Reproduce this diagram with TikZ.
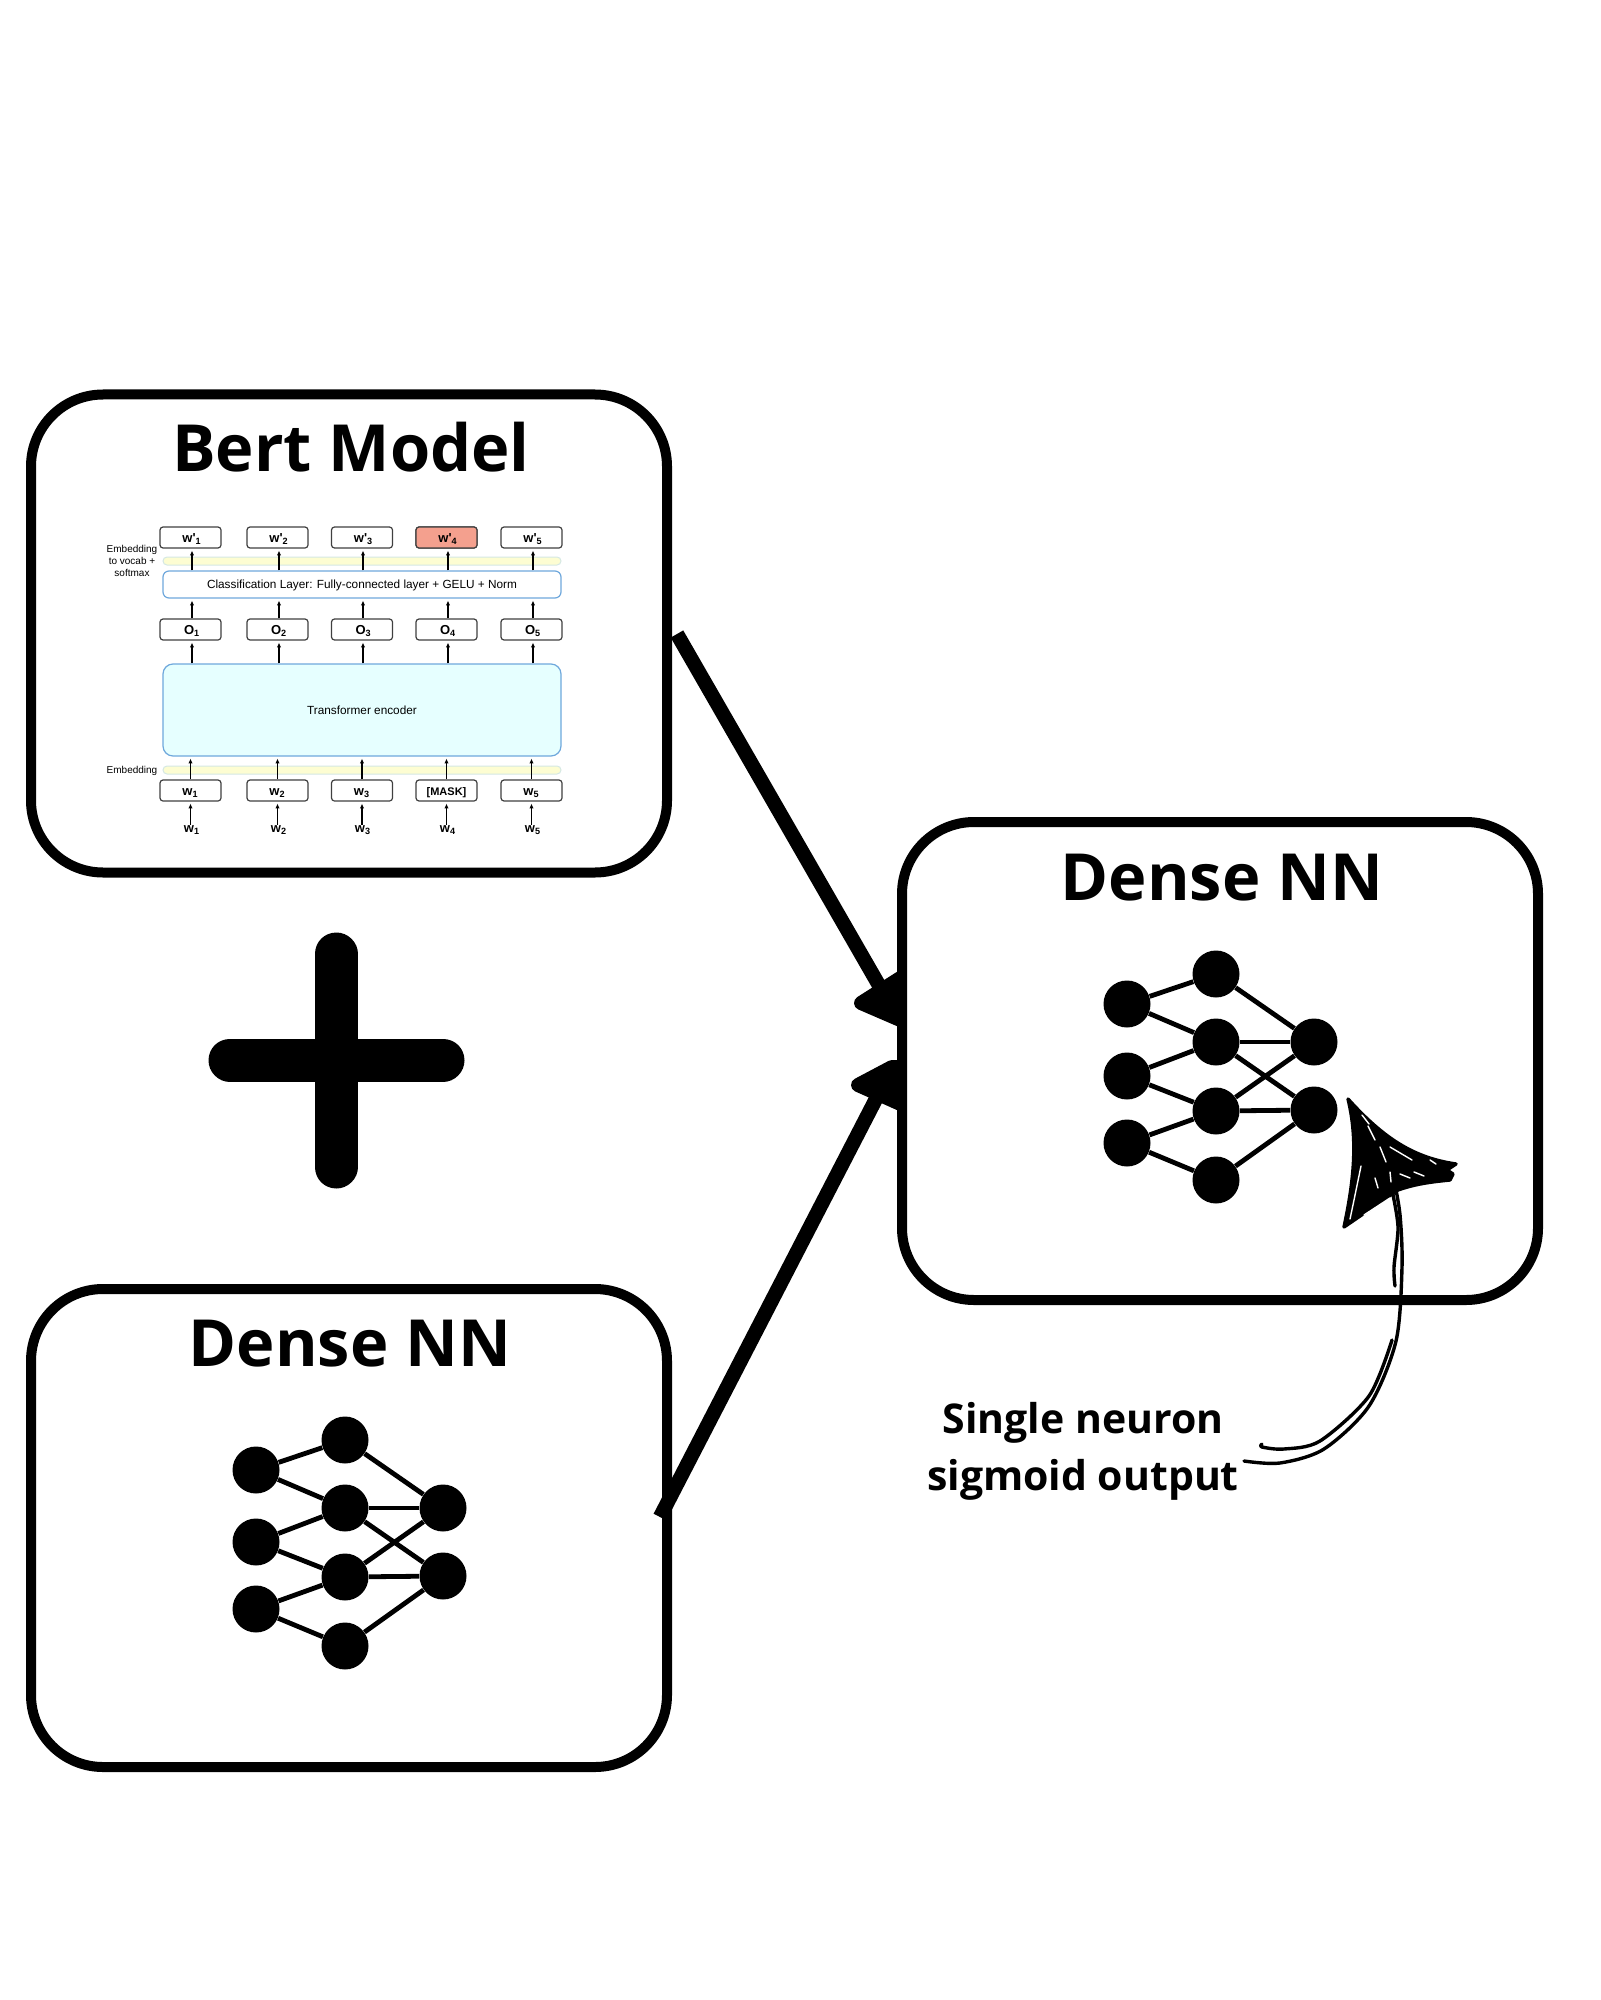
\documentclass[tikz,border=0pt]{standalone}
\usepackage{fontspec}
\setmainfont{Open Sans}
\newfontfamily\helvfont{Liberation Sans}
\usetikzlibrary{arrows.meta}
\definecolor{layerblue}{HTML}{6FA8DC}
\definecolor{bandyellow}{HTML}{FDFDD2}
\definecolor{bandedge}{HTML}{D5E8E4}
\definecolor{encfill}{HTML}{E6FFFF}
\definecolor{maskred}{HTML}{F4A08E}
\tikzset{
  bigbox/.style={draw,fill=white,line width=5pt,rounded corners=36pt,minimum width=318pt,minimum height=239pt,inner sep=0pt},
  title/.style={font=\fontsize{32.5}{33}\selectfont\bfseries,anchor=base,inner sep=0pt},
  neuron/.style={circle,fill=black,minimum size=23.5pt,inner sep=0pt},
  nnedge/.style={line width=2.4pt},
  fatline/.style={line width=7.2pt},
  arrowhead/.style={fill=black,draw=black,line width=7pt,line join=round},
  token/.style={draw=black!75,fill=white,line width=.6pt,rounded corners=1.5pt,minimum width=30.5pt,minimum height=10.5pt,inner sep=0pt,text height=6pt,text depth=1pt,font=\helvfont\fontsize{6.5}{7}\selectfont\bfseries},
  layerbox/.style={draw=layerblue,line width=.6pt,rounded corners=3pt,minimum width=199pt,inner sep=0pt,font=\helvfont\fontsize{5.9}{7}\selectfont},
  band/.style={draw=bandedge,fill=bandyellow,line width=.5pt,rounded corners=2pt,minimum width=199pt,minimum height=4pt,inner sep=0pt},
  sidetext/.style={font=\helvfont\fontsize{5}{6}\selectfont,inner sep=0pt},
  wordtext/.style={font=\helvfont\fontsize{6.5}{7}\selectfont\bfseries,inner sep=0pt},
  tinyarrow/.style={-{Latex[length=2.4pt,width=2.2pt]},line width=.6pt,shorten >=1pt},
  handline/.style={line width=1.7pt,line cap=round,line join=round},
  sliver/.style={draw=white,line width=.7pt,line cap=round}
}
\begin{document}
\begin{tikzpicture}[x=.5pt,y=-.5pt]
\useasboundingbox (0,0) rectangle (1600,2000);

\node [bigbox] (bert) at (349,633.5) {};
\node [bigbox] (dense) at (349,1528) {};

% arrows go under the right box
\coordinate (bertout) at (677,634);
\coordinate (bertend) at (880,987);
\coordinate (denseout) at (660,1517);
\coordinate (denseend) at (878,1095);
\draw[fatline] (bertout) -- (bertend);
\draw[fatline] (denseout) -- (denseend);
\filldraw[arrowhead] (861,1003) -- (905,975) -- (905,1022) -- cycle;
\filldraw[arrowhead] (858,1085) -- (892,1067) -- (905,1067) -- (905,1106) -- cycle;

\node [bigbox] (output) at (1220,1061) {};
\node [title] (berttitle) at (351,472) {Bert Model};
\node [title] (densetitle) at (350,1366) {Dense NN};
\node [title] (outputtitle) at (1222,900) {Dense NN};

% the bert picture
\node [band] (vocabband) at (362,561) {};
\node [layerbox,minimum height=13.5pt,text height=5pt,text depth=.6pt] (cls) at (362,584.5) {Classification Layer: Fully-connected layer + GELU + Norm};
\node [layerbox,fill=encfill,minimum height=46pt,rounded corners=5pt] (encoder) at (362,710) {Transformer encoder};
\node [band] (embband) at (362,770) {};
\node [sidetext,align=center] (vocabtext) at (132,561) {Embedding\\to vocab +\\softmax};
\node [sidetext] (embtext) at (132,771) {Embedding};

\foreach \i/\x/\wx in {1/190.5/192,2/277.5/279,3/362/363,4/446.5/448,5/531.5/533}{
  \node [token] (top\i) at (\x,537.5) {\hspace{1.6pt}w'\textsubscript{\i}};
  \node [token] (hid\i) at (\x,629.5) {\hspace{1.6pt}O\textsubscript{\i}};
  \node [wordtext] (word\i) at (\wx,830) {w\textsubscript{\i}};
}
\node [token,fill=maskred] at (top4) {\hspace{1.6pt}w'\textsubscript{4}};
\foreach \i/\x in {1/190.5,2/277.5,3/362,5/531.5}{
  \node [token] (inp\i) at (\x,790.5) {w\textsubscript{\i}};
}
\node [token,font=\helvfont\fontsize{5.5}{7}\selectfont\bfseries] (inp4) at (446.5,790.5) {[MASK]};

\foreach \i in {1,...,5}{
  \draw[tinyarrow] (inp\i.south |- word\i.north) -- (inp\i.south);
  \draw[tinyarrow] (inp\i.north) -- (inp\i.north |- encoder.south);
  \draw[tinyarrow] (word\i.north |- encoder.north) -- (word\i.north |- hid\i.south);
  \draw[tinyarrow] (word\i.north |- hid\i.north) -- (word\i.north |- cls.south);
  \draw[tinyarrow] (word\i.north |- cls.north) -- (word\i.north |- top\i.south);
}

% the two small nets
\foreach \n/\dx/\dy in {r/0/0,d/-871/466}{
  \begin{scope}[shift={(\dx,\dy)}]
  \node [neuron] (\n l1) at (1127,1004) {};
  \node [neuron] (\n l2) at (1127,1076) {};
  \node [neuron] (\n l3) at (1127,1143) {};
  \node [neuron] (\n m1) at (1216,974) {};
  \node [neuron] (\n m2) at (1216,1042) {};
  \node [neuron] (\n m3) at (1216,1111) {};
  \node [neuron] (\n m4) at (1216,1180) {};
  \node [neuron] (\n o1) at (1314,1042) {};
  \node [neuron] (\n o2) at (1314,1110) {};
  \end{scope}
  \foreach \a/\b in {l1/m1,l1/m2,l2/m2,l2/m3,l3/m3,l3/m4,m1/o1,m2/o1,m2/o2,m3/o1,m3/o2,m4/o2}{
    \draw[nnedge] (\n\a) -- (\n\b);
  }
}

% plus
\draw[line width=21.5pt,line cap=round] (336,954) -- (336,1167);
\draw[line width=21.5pt,line cap=round] (230,1060) -- (443,1060);

% note and its hand drawn arrow
\node [font=\fontsize{20.5}{28.5}\selectfont\bfseries,align=center,inner sep=0pt,anchor=north] (note) at (1083,1402) {Single neuron\\sigmoid output};
\coordinate (notea) at (1244,1461);
\coordinate (noteb) at (1262,1444);
\coordinate (headbase) at (1394,1180);
\draw[handline] plot[smooth] coordinates {(notea) (1280,1463) (1324,1449) (1369,1406) (1396,1341) (1402,1267) (1400,1215) (headbase)};
\draw[handline] plot[smooth] coordinates {(noteb) (1262,1447) (1284,1449) (1320,1441) (1369,1396) (1392,1340)};
\draw[handline] plot[smooth] coordinates {(1395,1286) (1394,1267) (1398,1227) (1392,1190)};
\draw[handline,fill=black] (1348,1099) .. controls (1385,1140) and (1415,1158) .. (1456,1164) -- (1447,1170) -- (1453,1174) -- (1450,1180) .. controls (1430,1182) and (1415,1184) .. (1398,1190) -- (1344,1227) .. controls (1354,1180) and (1358,1140) .. cycle;
\draw[sliver] (1362,1115) -- (1369,1124);
\draw[sliver] (1368,1126) -- (1375,1140);
\draw[sliver] (1361,1166) -- (1354,1200) -- (1350,1219);
\draw[sliver] (1364,1215) -- (1390,1198);
\draw[sliver] (1380,1147) -- (1386,1162);
\draw[sliver] (1390,1147) -- (1412,1160);
\draw[sliver] (1400,1174) -- (1410,1178);
\draw[sliver] (1414,1172) -- (1424,1176);
\draw[sliver] (1430,1160) -- (1436,1164);
\draw[sliver] (1375,1178) -- (1378,1188);
\draw[sliver] (1390,1172) -- (1391,1182);
\end{tikzpicture}
\end{document}
